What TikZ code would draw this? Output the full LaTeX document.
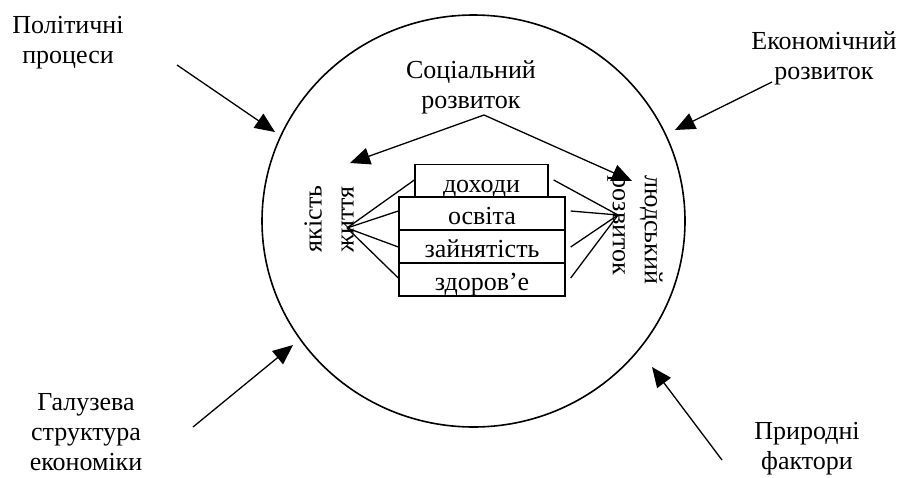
\documentclass[tikz,border=0pt]{standalone}
\usepackage{fontspec}
\setmainfont{Liberation Serif}
\usetikzlibrary{arrows.meta,shapes.geometric}
\begin{document}
\begin{tikzpicture}[x=1pt,y=-1pt,
  lbl/.style={align=center,inner sep=0pt,font=\fontsize{26}{30}\selectfont},
  vlbl/.style={align=left,inner sep=0pt,font=\fontsize{26}{32}\selectfont},
  boxn/.style={draw,line width=1.4pt,fill=white,inner sep=0pt,minimum height=33pt,text height=22pt,text depth=0pt,font=\fontsize{26}{30}\selectfont},
  conn/.style={line width=1.3pt},
  arr/.style={line width=1.3pt,-{Triangle[length=20pt,width=17pt]}}]
\useasboundingbox (0,0) rectangle (902,477);
% circle
\node[draw,line width=1.6pt,ellipse,minimum width=423pt,minimum height=412pt,inner sep=0pt] (c) at (473.5,221) {};
% outer labels
\node[lbl] (pol) at (68,43) {Політичні\\процеси};
\node[lbl] (eco) at (824,58) {Економічний\\розвиток};
\node[lbl] (gal) at (86,432) {Галузева\\структура\\економіки};
\node[lbl] (pry) at (807,449) {Природні\\фактори};
\node[lbl] (soc) at (471,87) {Соціальний\\розвиток};
% outer arrows
\coordinate (p1) at (177,65); \coordinate (p2) at (275,132);
\coordinate (e1) at (772,82); \coordinate (e2) at (675,130);
\coordinate (g1) at (193,427); \coordinate (g2) at (293,345);
\coordinate (n1) at (722,460); \coordinate (n2) at (652,367);
\draw[arr] (p1) -- (p2);
\draw[arr] (e1) -- (e2);
\draw[arr] (g1) -- (g2);
\draw[arr] (n1) -- (n2);
% boxes
\node[boxn,minimum width=133pt] (doh) at (481.5,181) {доходи};
\node[boxn,minimum width=166pt] (osv) at (482,213.5) {освіта};
\node[boxn,minimum width=166pt] (zai) at (482,246.5) {зайнятість};
\node[boxn,minimum width=166pt] (zdr) at (482,279.5) {здоров’е};
% rotated labels
\node[vlbl,rotate=90] (yak) at (329,219) {якість\\життя};
\node[vlbl,rotate=-90] (lud) at (635,230) {людський\\розвиток};
% inner arrows
\coordinate (s0) at (484,115);
\coordinate (sl) at (350,163);
\coordinate (sr) at (632,181);
\draw[arr] (s0) -- (sl);
\draw[arr] (s0) -- (sr);
% converging lines
\coordinate (lc) at (347,228);
\coordinate (rc) at (618,215);
\draw[conn] (lc) -- (doh.west |- 0,180);
\draw[conn] (lc) -- (osv.west |- 0,211);
\draw[conn] (lc) -- (zai.west |- 0,247);
\draw[conn] (lc) -- (zdr.west |- 0,278);
\draw[conn] (rc) -- ([xshift=5pt]doh.east |- 0,180);
\draw[conn] (rc) -- ([xshift=5pt]osv.east |- 0,211);
\draw[conn] (rc) -- ([xshift=5pt]zai.east |- 0,247);
\draw[conn] (rc) -- ([xshift=5pt]zdr.east |- 0,278);
\end{tikzpicture}
\end{document}
